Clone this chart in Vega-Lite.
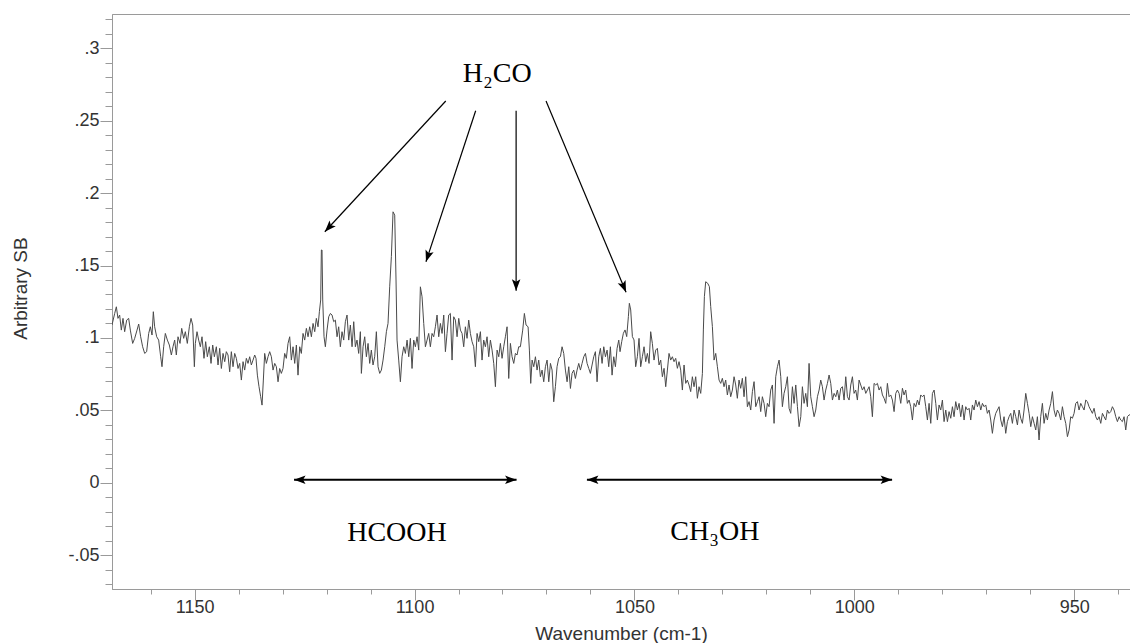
{
  "$schema": "https://vega.github.io/schema/vega-lite/v6.json",
  "width": 1018,
  "height": 575,
  "autosize": {"type": "none"},
  "padding": {"left": 112, "top": 14, "right": 0, "bottom": 54},
  "background": "white",
  "config": {
    "view": {"stroke": "#9a9a9a", "strokeWidth": 1},
    "axis": {
      "domainColor": "#9a9a9a",
      "tickColor": "#9a9a9a",
      "labelColor": "#333333",
      "titleColor": "#333333",
      "labelFont": "Liberation Sans",
      "titleFont": "Liberation Sans",
      "labelFontSize": 18,
      "titleFontSize": 19,
      "titleFontWeight": "normal",
      "grid": false,
      "labelOverlap": false,
      "labelFlush": false
    }
  },
  "datasets": {
    "spectrum": [
      {"w":1168.8,"s":0.1089},{"w":1168.19,"s":0.1169},{"w":1167.81,"s":0.1215},{"w":1167.44,"s":0.1135},{"w":1167.06,"s":0.1158},{"w":1166.68,"s":0.1054},{"w":1166.30,"s":0.1135},{"w":1165.92,"s":0.1043},{"w":1165.46,"s":0.1123},{"w":1165.01,"s":0.1135},{"w":1164.63,"s":0.1054},{"w":1164.10,"s":0.0962},{"w":1163.64,"s":0.0997},{"w":1163.11,"s":0.1054},{"w":1162.73,"s":0.1096},{"w":1162.28,"s":0.1008},{"w":1161.83,"s":0.0939},{"w":1161.37,"s":0.0893},{"w":1160.92,"s":0.0905},{"w":1160.46,"s":0.1031},{"w":1160.08,"s":0.1077},{"w":1159.70,"s":0.1020},{"w":1159.40,"s":0.1181},{"w":1159.10,"s":0.1077},{"w":1158.64,"s":0.1008},{"w":1158.19,"s":0.0985},{"w":1157.73,"s":0.0870},{"w":1157.43,"s":0.0801},{"w":1157.05,"s":0.0939},{"w":1156.67,"s":0.1031},{"w":1156.21,"s":0.0985},{"w":1155.76,"s":0.0951},{"w":1155.30,"s":0.0882},{"w":1154.93,"s":0.0939},{"w":1154.55,"s":0.0985},{"w":1154.17,"s":0.0882},{"w":1153.79,"s":0.1008},{"w":1153.33,"s":0.0962},{"w":1152.95,"s":0.1066},{"w":1152.50,"s":0.0997},{"w":1152.12,"s":0.1043},{"w":1151.67,"s":0.0962},{"w":1151.21,"s":0.1077},{"w":1150.83,"s":0.1135},{"w":1150.45,"s":0.1089},{"w":1150.07,"s":0.0801},{"w":1149.85,"s":0.0962},{"w":1149.47,"s":0.1043},{"w":1149.09,"s":0.0985},{"w":1148.71,"s":0.0939},{"w":1148.33,"s":0.1008},{"w":1147.88,"s":0.0859},{"w":1147.50,"s":0.0974},{"w":1147.12,"s":0.0870},{"w":1146.66,"s":0.0939},{"w":1146.28,"s":0.0824},{"w":1145.90,"s":0.0951},{"w":1145.52,"s":0.0870},{"w":1145.07,"s":0.0939},{"w":1144.69,"s":0.0813},{"w":1144.31,"s":0.0928},{"w":1143.93,"s":0.0789},{"w":1143.55,"s":0.0893},{"w":1143.17,"s":0.0836},{"w":1142.80,"s":0.0905},{"w":1142.42,"s":0.0882},{"w":1142.04,"s":0.0766},{"w":1141.66,"s":0.0905},{"w":1141.28,"s":0.0801},{"w":1140.90,"s":0.0893},{"w":1140.52,"s":0.0859},{"w":1140.14,"s":0.0789},{"w":1139.76,"s":0.0824},{"w":1139.38,"s":0.0709},{"w":1139.00,"s":0.0836},{"w":1138.63,"s":0.0778},{"w":1138.25,"s":0.0859},{"w":1137.87,"s":0.0824},{"w":1137.49,"s":0.0870},{"w":1137.11,"s":0.0813},{"w":1136.73,"s":0.0847},{"w":1136.35,"s":0.0882},{"w":1136.05,"s":0.0859},{"w":1135.74,"s":0.0743},{"w":1135.37,"s":0.0663},{"w":1134.99,"s":0.0594},{"w":1134.68,"s":0.0536},{"w":1134.38,"s":0.0709},{"w":1134.08,"s":0.0893},{"w":1133.70,"s":0.0824},{"w":1133.32,"s":0.0870},{"w":1132.94,"s":0.0905},{"w":1132.56,"s":0.0870},{"w":1132.18,"s":0.0778},{"w":1131.80,"s":0.0824},{"w":1131.42,"s":0.0801},{"w":1131.04,"s":0.0697},{"w":1130.67,"s":0.0789},{"w":1130.29,"s":0.0755},{"w":1129.91,"s":0.0789},{"w":1129.53,"s":0.0893},{"w":1129.15,"s":0.0859},{"w":1128.77,"s":0.0962},{"w":1128.39,"s":0.1008},{"w":1128.01,"s":0.0847},{"w":1127.63,"s":0.0939},{"w":1127.25,"s":0.0824},{"w":1126.87,"s":0.0951},{"w":1126.50,"s":0.0743},{"w":1126.12,"s":0.0939},{"w":1125.74,"s":0.0893},{"w":1125.36,"s":0.1031},{"w":1124.98,"s":0.0985},{"w":1124.60,"s":0.1066},{"w":1124.22,"s":0.1008},{"w":1123.84,"s":0.1077},{"w":1123.46,"s":0.1008},{"w":1123.08,"s":0.1100},{"w":1122.70,"s":0.1043},{"w":1122.33,"s":0.1135},{"w":1121.95,"s":0.1077},{"w":1121.64,"s":0.1181},{"w":1121.34,"s":0.1262},{"w":1121.19,"s":0.1607},{"w":1121.04,"s":0.1607},{"w":1120.88,"s":0.1262},{"w":1120.58,"s":0.1008},{"w":1120.28,"s":0.0939},{"w":1119.90,"s":0.1054},{"w":1119.52,"s":0.1146},{"w":1119.14,"s":0.1169},{"w":1118.76,"s":0.1158},{"w":1118.38,"s":0.1112},{"w":1118.00,"s":0.1123},{"w":1117.62,"s":0.1008},{"w":1117.25,"s":0.1077},{"w":1116.87,"s":0.0939},{"w":1116.49,"s":0.1043},{"w":1116.11,"s":0.0985},{"w":1115.73,"s":0.1112},{"w":1115.35,"s":0.1158},{"w":1114.97,"s":0.0985},{"w":1114.59,"s":0.1089},{"w":1114.21,"s":0.0939},{"w":1113.83,"s":0.1112},{"w":1113.46,"s":0.0939},{"w":1113.08,"s":0.0985},{"w":1112.70,"s":0.0893},{"w":1112.32,"s":0.1043},{"w":1112.09,"s":0.0755},{"w":1111.71,"s":0.0939},{"w":1111.33,"s":0.1008},{"w":1110.95,"s":0.0870},{"w":1110.57,"s":0.0962},{"w":1110.20,"s":0.0824},{"w":1109.82,"s":0.0916},{"w":1109.44,"s":0.0813},{"w":1109.06,"s":0.0870},{"w":1108.68,"s":0.1043},{"w":1108.30,"s":0.0801},{"w":1107.92,"s":0.0755},{"w":1107.54,"s":0.0778},{"w":1107.16,"s":0.0847},{"w":1106.78,"s":0.0939},{"w":1106.40,"s":0.1043},{"w":1106.03,"s":0.1100},{"w":1105.65,"s":0.1353},{"w":1105.27,"s":0.1561},{"w":1104.89,"s":0.1871},{"w":1104.51,"s":0.1848},{"w":1104.21,"s":0.1400},{"w":1103.98,"s":0.0985},{"w":1103.60,"s":0.0847},{"w":1103.22,"s":0.0697},{"w":1102.84,"s":0.0870},{"w":1102.46,"s":0.0939},{"w":1102.08,"s":0.0893},{"w":1101.70,"s":0.0985},{"w":1101.32,"s":0.0870},{"w":1100.95,"s":0.0997},{"w":1100.57,"s":0.0789},{"w":1100.19,"s":0.0985},{"w":1099.81,"s":0.0939},{"w":1099.43,"s":0.1008},{"w":1099.05,"s":0.0916},{"w":1098.67,"s":0.1353},{"w":1098.29,"s":0.1284},{"w":1097.91,"s":0.1100},{"w":1097.53,"s":0.0939},{"w":1097.15,"s":0.0985},{"w":1096.78,"s":0.1031},{"w":1096.40,"s":0.0939},{"w":1096.02,"s":0.1031},{"w":1095.64,"s":0.1008},{"w":1095.26,"s":0.1077},{"w":1094.88,"s":0.1158},{"w":1094.50,"s":0.1008},{"w":1094.12,"s":0.1100},{"w":1093.74,"s":0.1031},{"w":1093.36,"s":0.1158},{"w":1092.98,"s":0.0905},{"w":1092.61,"s":0.1031},{"w":1092.23,"s":0.1158},{"w":1091.85,"s":0.1169},{"w":1091.47,"s":0.0847},{"w":1091.09,"s":0.1146},{"w":1090.71,"s":0.1123},{"w":1090.33,"s":0.1008},{"w":1089.95,"s":0.1135},{"w":1089.57,"s":0.1054},{"w":1089.19,"s":0.1031},{"w":1088.82,"s":0.0939},{"w":1088.44,"s":0.1077},{"w":1088.06,"s":0.0997},{"w":1087.68,"s":0.1123},{"w":1087.30,"s":0.1031},{"w":1086.92,"s":0.0974},{"w":1086.54,"s":0.0939},{"w":1086.16,"s":0.0801},{"w":1085.78,"s":0.1031},{"w":1085.40,"s":0.0974},{"w":1085.02,"s":0.1043},{"w":1084.65,"s":0.0847},{"w":1084.27,"s":0.0985},{"w":1083.89,"s":0.0939},{"w":1083.51,"s":0.1008},{"w":1083.13,"s":0.0870},{"w":1082.75,"s":0.0985},{"w":1082.37,"s":0.0916},{"w":1081.99,"s":0.0824},{"w":1081.61,"s":0.0663},{"w":1081.23,"s":0.0916},{"w":1080.85,"s":0.0870},{"w":1080.48,"s":0.0962},{"w":1080.10,"s":0.0859},{"w":1079.72,"s":0.0939},{"w":1079.34,"s":0.1008},{"w":1078.96,"s":0.1077},{"w":1078.58,"s":0.0720},{"w":1078.20,"s":0.0962},{"w":1077.82,"s":0.0870},{"w":1077.44,"s":0.0824},{"w":1077.06,"s":0.0893},{"w":1076.69,"s":0.0882},{"w":1076.31,"s":0.0939},{"w":1075.93,"s":0.0939},{"w":1075.40,"s":0.1054},{"w":1075.02,"s":0.1169},{"w":1074.64,"s":0.1089},{"w":1074.18,"s":0.1077},{"w":1073.88,"s":0.0916},{"w":1073.58,"s":0.0686},{"w":1073.27,"s":0.0847},{"w":1072.89,"s":0.0801},{"w":1072.51,"s":0.0870},{"w":1072.14,"s":0.0778},{"w":1071.76,"s":0.0847},{"w":1071.38,"s":0.0732},{"w":1071.00,"s":0.0778},{"w":1070.62,"s":0.0697},{"w":1070.24,"s":0.0801},{"w":1069.86,"s":0.0847},{"w":1069.48,"s":0.0697},{"w":1069.10,"s":0.0824},{"w":1068.72,"s":0.0778},{"w":1068.35,"s":0.0559},{"w":1067.97,"s":0.0663},{"w":1067.59,"s":0.0801},{"w":1067.21,"s":0.0859},{"w":1066.83,"s":0.0870},{"w":1066.45,"s":0.0939},{"w":1066.07,"s":0.0893},{"w":1065.69,"s":0.0778},{"w":1065.31,"s":0.0697},{"w":1064.93,"s":0.0801},{"w":1064.55,"s":0.0651},{"w":1064.18,"s":0.0755},{"w":1063.80,"s":0.0778},{"w":1063.42,"s":0.0720},{"w":1063.04,"s":0.0778},{"w":1062.66,"s":0.0824},{"w":1062.28,"s":0.0778},{"w":1061.90,"s":0.0824},{"w":1061.52,"s":0.0870},{"w":1061.14,"s":0.0893},{"w":1060.76,"s":0.0824},{"w":1060.38,"s":0.0789},{"w":1060.01,"s":0.0755},{"w":1059.63,"s":0.0813},{"w":1059.25,"s":0.0870},{"w":1058.87,"s":0.0905},{"w":1058.49,"s":0.0697},{"w":1058.11,"s":0.0870},{"w":1057.73,"s":0.0928},{"w":1057.35,"s":0.0824},{"w":1056.97,"s":0.0939},{"w":1056.59,"s":0.0870},{"w":1056.21,"s":0.0916},{"w":1055.84,"s":0.0801},{"w":1055.46,"s":0.0939},{"w":1055.08,"s":0.0743},{"w":1054.70,"s":0.0870},{"w":1054.32,"s":0.0801},{"w":1053.94,"s":0.0928},{"w":1053.56,"s":0.0985},
      {"w":1053.27,"s":0.0905},{"w":1052.89,"s":0.0974},{"w":1052.51,"s":0.1032},{"w":1052.13,"s":0.1055},{"w":1051.75,"s":0.1009},{"w":1051.37,"s":0.1147},{"w":1051.15,"s":0.1239},{"w":1050.84,"s":0.1193},{"w":1050.46,"s":0.1009},{"w":1050.09,"s":0.0986},{"w":1049.71,"s":0.0801},{"w":1049.33,"s":0.0870},{"w":1048.95,"s":0.0997},{"w":1048.57,"s":0.0801},{"w":1048.19,"s":0.0870},{"w":1047.81,"s":0.0939},{"w":1047.43,"s":0.0836},{"w":1047.05,"s":0.0893},{"w":1046.67,"s":0.0824},{"w":1046.30,"s":0.1043},{"w":1045.92,"s":0.0962},{"w":1045.54,"s":0.0847},{"w":1045.16,"s":0.0916},{"w":1044.78,"s":0.0928},{"w":1044.40,"s":0.0813},{"w":1044.02,"s":0.0847},{"w":1043.64,"s":0.0732},{"w":1043.26,"s":0.0790},{"w":1042.88,"s":0.0663},{"w":1042.50,"s":0.0778},{"w":1042.13,"s":0.0893},{"w":1041.75,"s":0.0847},{"w":1041.37,"s":0.0870},{"w":1040.99,"s":0.0836},{"w":1040.61,"s":0.0859},{"w":1040.23,"s":0.0790},{"w":1039.85,"s":0.0836},{"w":1039.47,"s":0.0778},{"w":1039.09,"s":0.0640},{"w":1038.71,"s":0.0813},{"w":1038.33,"s":0.0686},{"w":1037.96,"s":0.0709},{"w":1037.58,"s":0.0675},{"w":1037.20,"s":0.0629},{"w":1036.82,"s":0.0732},{"w":1036.44,"s":0.0663},{"w":1036.06,"s":0.0732},{"w":1035.68,"s":0.0583},{"w":1035.30,"s":0.0663},{"w":1034.92,"s":0.0617},{"w":1034.54,"s":0.0755},{"w":1034.32,"s":0.1055},{"w":1034.09,"s":0.1285},{"w":1033.79,"s":0.1388},{"w":1033.33,"s":0.1377},{"w":1032.95,"s":0.1354},{"w":1032.65,"s":0.1216},{"w":1032.27,"s":0.1078},{"w":1031.89,"s":0.0847},{"w":1031.51,"s":0.0893},{"w":1031.13,"s":0.0801},{"w":1030.75,"s":0.0709},{"w":1030.37,"s":0.0686},
      {"w":1030.00,"s":0.0721},{"w":1029.62,"s":0.0663},{"w":1029.24,"s":0.0709},{"w":1028.86,"s":0.0606},{"w":1028.48,"s":0.0675},{"w":1028.10,"s":0.0594},{"w":1027.72,"s":0.0640},{"w":1027.34,"s":0.0732},{"w":1026.96,"s":0.0675},{"w":1026.59,"s":0.0583},{"w":1026.21,"s":0.0709},{"w":1025.83,"s":0.0652},{"w":1025.45,"s":0.0721},{"w":1025.07,"s":0.0594},{"w":1024.69,"s":0.0732},{"w":1024.31,"s":0.0525},{"w":1023.93,"s":0.0560},{"w":1023.55,"s":0.0502},{"w":1023.17,"s":0.0629},{"w":1022.79,"s":0.0698},{"w":1022.41,"s":0.0525},{"w":1022.03,"s":0.0560},{"w":1021.65,"s":0.0594},{"w":1021.28,"s":0.0491},{"w":1020.90,"s":0.0594},{"w":1020.52,"s":0.0548},{"w":1020.14,"s":0.0456},{"w":1019.76,"s":0.0548},{"w":1019.38,"s":0.0525},{"w":1019.00,"s":0.0640},{"w":1018.62,"s":0.0675},{"w":1018.24,"s":0.0410},{"w":1017.86,"s":0.0732},{"w":1017.48,"s":0.0801},{"w":1017.10,"s":0.0847},{"w":1016.72,"s":0.0732},{"w":1016.35,"s":0.0525},{"w":1015.97,"s":0.0617},{"w":1015.59,"s":0.0663},{"w":1015.21,"s":0.0732},{"w":1014.83,"s":0.0514},{"w":1014.45,"s":0.0479},{"w":1014.07,"s":0.0663},{"w":1013.69,"s":0.0548},{"w":1013.31,"s":0.0675},{"w":1012.93,"s":0.0525},{"w":1012.55,"s":0.0387},{"w":1012.17,"s":0.0456},{"w":1011.80,"s":0.0663},{"w":1011.42,"s":0.0548},{"w":1011.04,"s":0.0617},{"w":1010.66,"s":0.0525},{"w":1010.28,"s":0.0824},{"w":1009.90,"s":0.0594},{"w":1009.52,"s":0.0525},{"w":1009.14,"s":0.0456},{"w":1008.76,"s":0.0502},{"w":1008.38,"s":0.0594},{"w":1008.00,"s":0.0640},{"w":1007.63,"s":0.0709},{"w":1007.25,"s":0.0663},{"w":1006.87,"s":0.0571},{"w":1006.49,"s":0.0640},{"w":1006.11,"s":0.0686},{"w":1005.73,"s":0.0744},{"w":1005.35,"s":0.0686},{"w":1004.97,"s":0.0571},{"w":1004.59,"s":0.0617},{"w":1004.21,"s":0.0594},{"w":1003.84,"s":0.0640},{"w":1003.46,"s":0.0571},{"w":1003.08,"s":0.0652},{"w":1002.70,"s":0.0663},{"w":1002.32,"s":0.0571},{"w":1001.94,"s":0.0732},{"w":1001.56,"s":0.0594},{"w":1001.18,"s":0.0571},{"w":1000.80,"s":0.0675},{"w":1000.42,"s":0.0732},{"w":1000.05,"s":0.0617},{"w":999.67,"s":0.0640},{"w":999.29,"s":0.0571},{"w":998.91,"s":0.0709},{"w":998.53,"s":0.0675},{"w":998.15,"s":0.0640},{"w":997.77,"s":0.0663},{"w":997.39,"s":0.0617},{"w":997.01,"s":0.0640},{"w":996.63,"s":0.0663},{"w":996.26,"s":0.0594},{"w":995.88,"s":0.0456},{"w":995.50,"s":0.0686},{"w":995.12,"s":0.0675},{"w":994.74,"s":0.0686},{"w":994.36,"s":0.0640},{"w":993.98,"s":0.0663},{"w":993.60,"s":0.0606},{"w":993.22,"s":0.0583},{"w":992.84,"s":0.0548},{"w":992.47,"s":0.0686},{"w":992.09,"s":0.0594},{"w":991.71,"s":0.0606},{"w":991.33,"s":0.0571},{"w":990.95,"s":0.0491},{"w":990.57,"s":0.0617},{"w":990.19,"s":0.0640},{"w":989.81,"s":0.0617},{"w":989.43,"s":0.0548},{"w":989.05,"s":0.0652},{"w":988.68,"s":0.0606},{"w":988.30,"s":0.0640},{"w":987.92,"s":0.0548},{"w":987.54,"s":0.0571},{"w":987.16,"s":0.0525},{"w":986.78,"s":0.0433},{"w":986.40,"s":0.0548},{"w":986.02,"s":0.0525},{"w":985.64,"s":0.0571},{"w":985.26,"s":0.0537},{"w":984.89,"s":0.0606},{"w":984.51,"s":0.0594},{"w":984.13,"s":0.0606},{"w":983.75,"s":0.0525},{"w":983.37,"s":0.0433},{"w":982.99,"s":0.0548},{"w":982.61,"s":0.0410},{"w":982.23,"s":0.0617},{"w":981.85,"s":0.0640},{"w":981.47,"s":0.0548},{"w":981.10,"s":0.0433},{"w":980.72,"s":0.0537},{"w":980.34,"s":0.0502},{"w":979.96,"s":0.0571},{"w":979.58,"s":0.0422},{"w":979.20,"s":0.0502},{"w":978.82,"s":0.0422},{"w":978.44,"s":0.0491},{"w":978.06,"s":0.0445},{"w":977.68,"s":0.0525},{"w":977.31,"s":0.0456},{"w":976.93,"s":0.0560},{"w":976.55,"s":0.0502},{"w":976.17,"s":0.0548},{"w":975.79,"s":0.0456},{"w":975.41,"s":0.0537},{"w":975.03,"s":0.0433},{"w":974.65,"s":0.0525},{"w":974.27,"s":0.0502},{"w":973.89,"s":0.0514},{"w":973.52,"s":0.0433},{"w":973.14,"s":0.0537},{"w":972.76,"s":0.0502},{"w":972.38,"s":0.0571},{"w":972.00,"s":0.0525},{"w":971.62,"s":0.0560},{"w":971.24,"s":0.0502},{"w":970.86,"s":0.0548},{"w":970.48,"s":0.0525},{"w":970.10,"s":0.0537},{"w":969.73,"s":0.0479},{"w":969.35,"s":0.0502},{"w":968.97,"s":0.0433},{"w":968.59,"s":0.0341},{"w":968.21,"s":0.0433},{"w":967.83,"s":0.0479},{"w":967.45,"s":0.0502},{"w":967.07,"s":0.0525},{"w":966.69,"s":0.0433},{"w":966.31,"s":0.0387},{"w":965.94,"s":0.0456},{"w":965.56,"s":0.0341},{"w":965.18,"s":0.0422},{"w":964.80,"s":0.0456},{"w":964.42,"s":0.0479},{"w":964.04,"s":0.0410},{"w":963.66,"s":0.0502},{"w":963.28,"s":0.0456},{"w":962.90,"s":0.0399},{"w":962.52,"s":0.0502},{"w":962.15,"s":0.0445},{"w":961.77,"s":0.0410},{"w":961.39,"s":0.0502},{"w":961.01,"s":0.0617},{"w":960.63,"s":0.0548},{"w":960.25,"s":0.0479},{"w":959.87,"s":0.0387},{"w":959.49,"s":0.0456},{"w":959.11,"s":0.0410},{"w":958.73,"s":0.0364},{"w":958.36,"s":0.0456},{"w":957.98,"s":0.0295},{"w":957.60,"s":0.0456},{"w":957.22,"s":0.0548},{"w":956.84,"s":0.0410},{"w":956.46,"s":0.0479},{"w":956.08,"s":0.0433},{"w":955.70,"s":0.0502},{"w":955.32,"s":0.0548},{"w":954.94,"s":0.0629},{"w":954.57,"s":0.0502},{"w":954.19,"s":0.0456},{"w":953.81,"s":0.0502},{"w":953.43,"s":0.0479},{"w":953.05,"s":0.0433},{"w":952.67,"s":0.0525},{"w":952.29,"s":0.0456},{"w":951.91,"s":0.0410},{"w":951.53,"s":0.0318},{"w":951.15,"s":0.0364},{"w":950.78,"s":0.0456},{"w":950.40,"s":0.0445},{"w":950.02,"s":0.0479},{"w":949.64,"s":0.0548},{"w":949.26,"s":0.0560},{"w":948.88,"s":0.0502},{"w":948.50,"s":0.0548},{"w":948.12,"s":0.0525},{"w":947.74,"s":0.0502},{"w":947.36,"s":0.0571},{"w":946.99,"s":0.0560},{"w":946.61,"s":0.0525},{"w":946.23,"s":0.0502},{"w":945.85,"s":0.0479},{"w":945.47,"s":0.0514},{"w":945.09,"s":0.0456},{"w":944.71,"s":0.0433},{"w":944.33,"s":0.0456},{"w":943.95,"s":0.0410},{"w":943.57,"s":0.0479},{"w":943.20,"s":0.0456},{"w":942.82,"s":0.0433},{"w":942.44,"s":0.0502},{"w":942.06,"s":0.0479},{"w":941.68,"s":0.0491},{"w":941.30,"s":0.0525},{"w":940.92,"s":0.0502},{"w":940.54,"s":0.0456},{"w":940.16,"s":0.0422},{"w":939.78,"s":0.0456},{"w":939.41,"s":0.0433},{"w":939.03,"s":0.0422},{"w":938.65,"s":0.0456},{"w":938.27,"s":0.0364},{"w":937.89,"s":0.0456},{"w":937.51,"s":0.0468},{"w":937.2,"s":0.0470}
    ],
    "pointers": [
      {"x1":1092.9,"y1":0.2636,"x2":1120.4,"y2":0.1733},
      {"x1":1086.1,"y1":0.2569,"x2":1097.4,"y2":0.1526},
      {"x1":1076.9,"y1":0.2569,"x2":1076.9,"y2":0.1326},
      {"x1":1070.1,"y1":0.2636,"x2":1051.9,"y2":0.1315}
    ],
    "ranges": [
      {"x1":1127.4,"y1":0.002,"x2":1076.8,"y2":0.002},
      {"x1":1060.8,"y1":0.002,"x2":991.4,"y2":0.002}
    ],
    "labels": [
      {"label":"H₂CO","x":1081.2,"y":0.2769},
      {"label":"HCOOH","x":1104.0,"y":-0.0400},
      {"label":"CH₃OH","x":1031.7,"y":-0.0396}
    ]
  },
  "layer": [
    {
      "data": {"name": "spectrum"},
      "mark": {"type": "line", "color": "#4a4a4a", "strokeWidth": 1, "clip": true},
      "encoding": {
        "x": {
          "field": "w", "type": "quantitative", "title": "Wavenumber (cm-1)",
          "scale": {"domain": [937.3, 1168.8], "reverse": true, "nice": false, "zero": false},
          "axis": {
            "values": [1160,1150,1140,1130,1120,1110,1100,1090,1080,1070,1060,1050,1040,1030,1020,1010,1000,990,980,970,960,950,940],
            "tickCount": 200,
            "format": "d",
            "labelExpr": "datum.value % 50 === 0 ? datum.label : ''",
            "tickSize": {"condition": {"test": "datum.value % 50 === 0", "value": 11}, "value": 5},
            "labelPadding": -2,
            "titleX": 509,
            "titleY": 50,
            "titleAlign": "center",
            "titleBaseline": "alphabetic"
          }
        },
        "y": {
          "field": "s", "type": "quantitative", "title": "Arbitrary SB",
          "scale": {"domain": [-0.0734, 0.3237], "nice": false, "zero": false},
          "axis": {
            "values": [-0.07,-0.06,-0.05,-0.04,-0.03,-0.02,-0.01,0,0.01,0.02,0.03,0.04,0.05,0.06,0.07,0.08,0.09,0.1,0.11,0.12,0.13,0.14,0.15,0.16,0.17,0.18,0.19,0.2,0.21,0.22,0.23,0.24,0.25,0.26,0.27,0.28,0.29,0.3,0.31,0.32],
            "tickCount": 200,
            "labelExpr": "round(datum.value * 100) % 5 === 0 ? (datum.value < 0 ? '-' : '') + replace(format(abs(datum.value), '.2~f'), '0.', '.') : ''",
            "tickSize": {"condition": {"test": "round(datum.value * 100) % 5 === 0", "value": 12}, "value": 7},
            "labelPadding": 1,
            "titleX": -86,
            "titleY": 274,
            "titleAngle": -90,
            "titleAlign": "center",
            "titleBaseline": "alphabetic"
          }
        }
      }
    },
    {
      "data": {"name": "pointers"},
      "mark": {"type": "rule", "color": "black", "strokeWidth": 1.2},
      "encoding": {
        "x": {"field": "x1", "type": "quantitative", "title": "Wavenumber (cm-1)"},
        "x2": {"field": "x2"},
        "y": {"field": "y1", "type": "quantitative", "title": "Arbitrary SB"},
        "y2": {"field": "y2"}
      }
    },
    {
      "data": {"name": "pointers"},
      "mark": {"type": "point", "shape": "M0,0L-0.85,2.3L0,1.8L0.85,2.3Z", "filled": true, "size": 100, "color": "black", "opacity": 1, "strokeWidth": 0,
        "angle": {"expr": "atan2(scale('x', datum.x2) - scale('x', datum.x1), scale('y', datum.y1) - scale('y', datum.y2)) * 180 / PI"}},
      "encoding": {
        "x": {"field": "x2", "type": "quantitative", "title": "Wavenumber (cm-1)"},
        "y": {"field": "y2", "type": "quantitative", "title": "Arbitrary SB"}
      }
    },
    {
      "data": {"name": "ranges"},
      "mark": {"type": "rule", "color": "black", "strokeWidth": 2},
      "encoding": {
        "x": {"field": "x1", "type": "quantitative", "title": "Wavenumber (cm-1)"},
        "x2": {"field": "x2"},
        "y": {"field": "y1", "type": "quantitative", "title": "Arbitrary SB"},
        "y2": {"field": "y2"}
      }
    },
    {
      "data": {"name": "ranges"},
      "mark": {"type": "point", "shape": "M0,0L-0.85,2.3L0,1.8L0.85,2.3Z", "filled": true, "size": 100, "color": "black", "opacity": 1, "strokeWidth": 0,
        "angle": {"expr": "atan2(scale('x', datum.x2) - scale('x', datum.x1), scale('y', datum.y1) - scale('y', datum.y2)) * 180 / PI"}},
      "encoding": {
        "x": {"field": "x2", "type": "quantitative", "title": "Wavenumber (cm-1)"},
        "y": {"field": "y2", "type": "quantitative", "title": "Arbitrary SB"}
      }
    },
    {
      "data": {"name": "ranges"},
      "mark": {"type": "point", "shape": "M0,0L-0.85,2.3L0,1.8L0.85,2.3Z", "filled": true, "size": 100, "color": "black", "opacity": 1, "strokeWidth": 0,
        "angle": {"expr": "atan2(scale('x', datum.x1) - scale('x', datum.x2), scale('y', datum.y2) - scale('y', datum.y1)) * 180 / PI"}},
      "encoding": {
        "x": {"field": "x1", "type": "quantitative", "title": "Wavenumber (cm-1)"},
        "y": {"field": "y1", "type": "quantitative", "title": "Arbitrary SB"}
      }
    },
    {
      "data": {"name": "labels"},
      "mark": {"type": "text", "font": "Liberation Serif", "fontSize": 28, "color": "black", "align": "center", "baseline": "alphabetic"},
      "encoding": {
        "x": {"field": "x", "type": "quantitative", "title": "Wavenumber (cm-1)"},
        "y": {"field": "y", "type": "quantitative", "title": "Arbitrary SB"},
        "text": {"field": "label"}
      }
    }
  ]
}
